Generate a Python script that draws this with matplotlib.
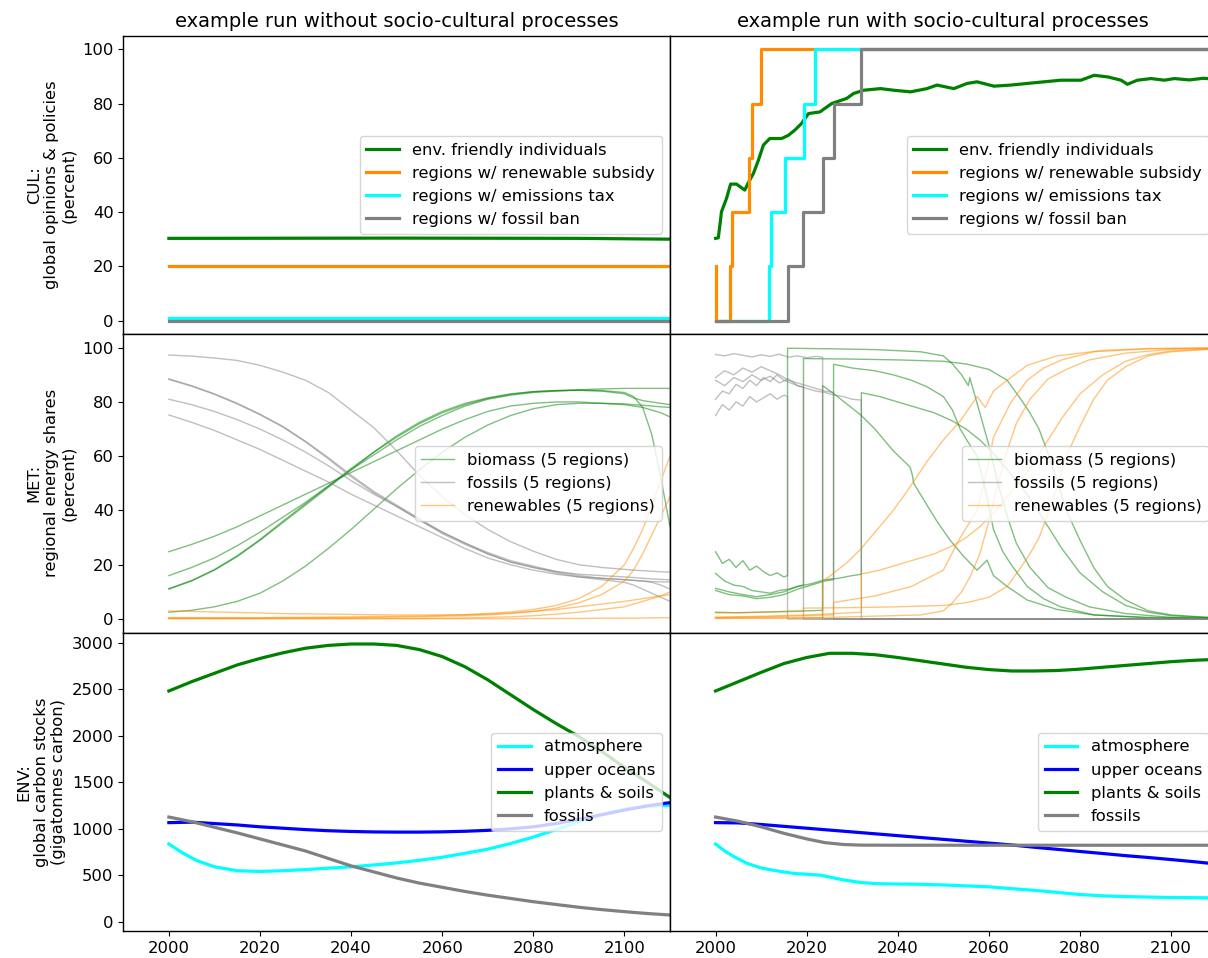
import matplotlib
matplotlib.use("Agg")
import matplotlib.pyplot as plt

plt.rcParams['font.family'] = ['DejaVu Sans']
plt.rcParams['font.size'] = 11.8

# ---------------- CUL (top row) ----------------
cul_labels = ["env. friendly individuals", "regions w/ renewable subsidy",
              "regions w/ emissions tax", "regions w/ fossil ban"]
cul_colors = ["green", "darkorange", "cyan", "gray"]

# without socio-cultural processes
cul0_env_y = [2000, 2050, 2090, 2110]
cul0_env_v = [30.3, 30.4, 30.3, 30.0]
cul0_sub_y = [2000, 2110]
cul0_sub_v = [20, 20]
cul0_tax_y = [2000, 2110]
cul0_tax_v = [1, 1]
cul0_ban_y = [2000, 2110]
cul0_ban_v = [0, 0]

# with socio-cultural processes
cul1_env_y = [2000, 2000.6, 2001, 2001.3, 2002.4, 2003.3, 2004.6, 2006.4, 2007.2, 2008.3,
              2009.4, 2010.5, 2011.9, 2014.5, 2016, 2017.4, 2018.9, 2020.4, 2022.9, 2025.5,
              2028.8, 2030.3, 2032.5, 2036.2, 2039.1, 2042.8, 2046.4, 2048.6, 2052.3, 2055.2,
              2057.4, 2061.1, 2064.8, 2068.4, 2072.1, 2075.8, 2080.2, 2083.1, 2086.1, 2089,
              2090.4, 2092.6, 2095.6, 2098.5, 2100.7, 2104, 2107, 2110]
cul1_env_v = [30.3, 30.5, 35.8, 40.1, 45, 50.3, 50.3, 48.1, 50.8, 54.2,
              59.1, 64.7, 67.1, 67.1, 68.3, 70.2, 72.7, 76.3, 76.9, 80,
              81.9, 83.7, 84.9, 85.5, 84.9, 84.3, 85.5, 86.8, 85.5, 87.4,
              88, 86.4, 86.8, 87.4, 88, 88.6, 88.6, 90.4, 89.8, 88.6,
              87.1, 88.6, 89.2, 88.6, 89.2, 88.7, 89.3, 89]
cul1_sub_y = [2000, 2000.2, 2003.1, 2003.5, 2007.4, 2007.9, 2010, 2110]
cul1_sub_v = [20, 0, 20, 40, 60, 80, 100, 100]
cul1_tax_y = [2000, 2011.8, 2012.1, 2015.3, 2019.4, 2021.9, 2110]
cul1_tax_v = [0, 20, 40, 60, 80, 100, 100]
cul1_ban_y = [2000, 2015.8, 2019.3, 2023.5, 2025.9, 2032, 2110]
cul1_ban_v = [0, 20, 40, 60, 80, 100, 100]

# ---------------- MET (middle row) ----------------
met_labels = ["biomass (5 regions)", "fossils (5 regions)", "renewables (5 regions)"]
met_colors = ["green", "gray", "darkorange"]

met0_years = [2000, 2005, 2010, 2015, 2020, 2025, 2030, 2035, 2040, 2045, 2050, 2055, 2060,
              2065, 2070, 2075, 2080, 2085, 2090, 2095, 2100, 2102, 2104, 2106, 2108, 2110]
met0_bio = [
    [24.8, 27.5, 30.5, 34, 38, 42, 46, 50, 54, 58, 62, 66, 70, 73.5, 76.5, 78.5, 79.5, 80, 80, 79.5, 79, 78.5, 78, 77, 76, 74.5],
    [16, 19, 22.5, 27, 32, 37.5, 43, 49, 55, 60.5, 66, 71, 75, 78.5, 81, 82.5, 83.5, 84, 84.5, 84.8, 85, 85, 85, 85, 85, 85],
    [11, 14, 18, 23, 29, 35.5, 42, 48.5, 55, 61.5, 67.5, 72.5, 76.5, 79.5, 81.5, 83, 83.8, 84.2, 84.3, 84.2, 83.5, 82, 78, 68, 52, 34],
    [11.2, 14.2, 18.2, 23.3, 29.3, 36, 42.5, 49, 55.5, 61.5, 67, 72, 76, 79, 81.3, 82.8, 83.8, 84.2, 84.3, 84, 83, 81.5, 80.5, 80, 79.5, 79],
    [2.5, 3.2, 4.5, 6.5, 9.5, 14, 19.5, 26, 33, 40.5, 48, 55, 61.5, 67, 71.5, 75, 77.5, 79, 79.5, 79.5, 79.3, 79, 78.8, 78.5, 78.2, 78],
]
met0_fos = [
    [97.3, 96.9, 96.2, 95.3, 93.5, 91, 88, 83.5, 77, 70.5, 62, 53, 45, 38.5, 33, 28.5, 25, 22, 20, 19, 18.3, 18, 17.8, 17.6, 17.4, 17.3],
    [88.5, 86, 83, 79.5, 75.5, 71, 65.5, 59.5, 53, 47, 42, 37, 32, 28, 24.5, 21.5, 19.5, 17.5, 16, 15, 14.5, 14.3, 14, 13.5, 12.5, 11],
    [88.3, 85.8, 82.8, 79.3, 75.3, 70.8, 65.3, 59, 52.5, 46.5, 41.5, 36.5, 31.5, 27.5, 24, 21, 19, 17, 15.5, 14.5, 13.5, 12.5, 11, 9.5, 8, 6.5],
    [81, 79, 76.5, 73.5, 70, 66, 61.5, 56.5, 51, 46, 41.5, 36.5, 32, 28, 24, 21, 19, 17.5, 16.5, 16, 15.5, 15.3, 15, 14.8, 14.6, 14.4],
    [75.2, 72.5, 69.5, 66, 62.5, 58.5, 54.5, 50.5, 46, 42, 38, 34, 30, 26, 22.5, 20, 18, 16.5, 15.5, 15, 14.5, 14.2, 14, 13.8, 13.7, 13.6],
]
met0_ren = [
    [3, 2.8, 2.6, 2.4, 2.2, 2, 1.9, 1.8, 1.7, 1.6, 1.5, 1.5, 1.5, 1.6, 1.8, 2.2, 2.8, 3.5, 4.5, 5.5, 6.5, 7, 7.5, 8, 8.5, 9],
    [0.5, 0.5, 0.5, 0.5, 0.5, 0.6, 0.6, 0.7, 0.8, 0.9, 1, 1.1, 1.3, 1.6, 2, 2.6, 3.5, 5, 7.5, 12, 20, 26, 33, 42, 51, 60],
    [0.3, 0.3, 0.3, 0.3, 0.3, 0.4, 0.4, 0.5, 0.5, 0.6, 0.7, 0.8, 1, 1.2, 1.5, 2, 2.8, 4, 6, 9, 14, 18, 24, 31, 38, 45],
    [0.2, 0.2, 0.2, 0.2, 0.2, 0.2, 0.2, 0.2, 0.2, 0.2, 0.2, 0.2, 0.3, 0.4, 0.6, 0.8, 1.2, 1.8, 2.5, 3.5, 4.5, 5.5, 6.5, 7.5, 8.5, 10],
    [0.1, 0.1, 0.1, 0.1, 0.1, 0.1, 0.1, 0.1, 0.1, 0.1, 0.1, 0.1, 0.1, 0.1, 0.1, 0.1, 0.2, 0.2, 0.2, 0.3, 0.3, 0.3, 0.4, 0.4, 0.5, 0.5],
]

# with socio-cultural processes: (years, values) per region
met1_bio_y = [
    [2000, 2001.5, 2003, 2004.5, 2006, 2007.5, 2009, 2010.5, 2012, 2013.5, 2015, 2015.8, 2015.8, 2025, 2035, 2045, 2050, 2052, 2054, 2055.5, 2055.8, 2058, 2060, 2062, 2064, 2066, 2069, 2073, 2077, 2082, 2090, 2100, 2110],
    [2000, 2002, 2004, 2006, 2008, 2010, 2012, 2014, 2016, 2018, 2019.3, 2019.3, 2030, 2040, 2050, 2055, 2060, 2064, 2067, 2069, 2071, 2073, 2075, 2077, 2080, 2083, 2086, 2090, 2095, 2100, 2110],
    [2000, 2005, 2010, 2015, 2020, 2023.5, 2023.5, 2026, 2029, 2032, 2035, 2039, 2042.7, 2043.2, 2043.5, 2046.4, 2048.6, 2051.5, 2054.5, 2057.4, 2059.6, 2061, 2064, 2068.4, 2075, 2083, 2095, 2110],
    [2000, 2003, 2006, 2009, 2012, 2015, 2018, 2021, 2024, 2025.9, 2025.9, 2030, 2035, 2039, 2043, 2046.4, 2050, 2052, 2053.7, 2055.5, 2057.4, 2059.6, 2061, 2063, 2064.7, 2068.4, 2072, 2075.7, 2083, 2095, 2110],
    [2000, 2003, 2006, 2009, 2012, 2015, 2018, 2021, 2024, 2027, 2030, 2032, 2032, 2036, 2040, 2044, 2048, 2052, 2055, 2058, 2061, 2064, 2067, 2070, 2073, 2076, 2080, 2085, 2090, 2095, 2100, 2110],
]
met1_bio_v = [
    [24.8, 20.5, 22, 19, 21.5, 18, 19.5, 17.5, 16, 17, 15.5, 16, 99.8, 99.6, 99.3, 98.5, 97, 94, 90, 86, 89, 76, 64, 50, 38, 28, 19, 11.5, 8, 4.5, 2, 0.6, 0.2],
    [16.8, 14, 12.5, 12, 10.5, 10, 9.5, 10.5, 11, 12, 12.5, 96, 95.8, 95.5, 95, 94, 92, 88, 81, 76, 70, 61, 51, 40, 29, 19, 12, 7, 3, 1.5, 0.4],
    [2.5, 2.3, 2.5, 2.8, 3, 3.2, 86, 83, 79, 75, 70, 62, 56, 53, 50, 42, 36, 29, 23, 18, 21.7, 16, 12, 7, 3.5, 1.5, 0.6, 0.2],
    [10.5, 9, 8.5, 7.5, 8, 9, 11, 12.5, 14, 14.5, 93.9, 92.5, 91.5, 90, 88, 85.6, 82, 77, 70, 65, 60, 45, 33, 25, 20.5, 12, 7.5, 4.5, 1.5, 0.4, 0.1],
    [11.3, 10, 9, 8.2, 9, 10, 12, 13, 14.5, 15, 16, 16.5, 83.4, 82, 80, 78, 76, 73, 70, 66, 61, 55, 49, 42, 34, 26, 17, 10, 5, 2.5, 1.2, 0.4],
]
met1_fos_y = [
    [2000, 2001.5, 2003, 2004.5, 2006, 2007.5, 2009, 2010.5, 2012, 2013.5, 2015, 2015.8, 2015.8, 2110],
    [2000, 2001.5, 2003, 2004.5, 2006, 2007.5, 2009, 2010.5, 2012, 2013.5, 2015, 2016.5, 2018, 2019.3, 2019.3, 2110],
    [2000, 2002, 2004, 2006, 2008, 2010, 2012, 2014, 2016, 2018, 2020, 2022, 2023.5, 2023.5, 2110],
    [2000, 2002, 2004, 2006, 2008, 2010, 2012, 2014, 2016, 2018, 2020, 2022, 2024, 2025.9, 2025.9, 2110],
    [2000, 2002, 2004, 2006, 2008, 2010, 2012, 2014, 2016, 2018, 2020, 2022, 2024, 2026, 2028, 2030, 2032, 2032, 2110],
]
met1_fos_v = [
    [75, 79, 77, 80, 78.5, 82, 80, 81.5, 83, 81, 82.5, 82, 0, 0],
    [81, 84, 83, 86.5, 85, 88, 86, 89, 87.5, 90, 88, 87, 86, 85.5, 0, 0],
    [97.5, 97, 97.8, 97.2, 96.6, 97.4, 96.8, 97.6, 96.5, 97, 96.3, 96.8, 96.5, 0, 0],
    [89, 91.5, 90, 92.5, 91, 93, 91.5, 90, 88, 87, 86, 85, 84, 83.5, 0, 0],
    [88, 86, 89, 87.5, 90, 88, 89.5, 87, 88.5, 86, 85, 84, 83.5, 82.5, 82, 81, 80.7, 0, 0],
]
met1_ren_y = [
    [2000, 2015.8, 2015.8, 2045, 2050, 2052, 2054, 2056, 2058, 2060, 2062, 2064, 2066, 2069, 2073, 2077, 2082, 2090, 2100, 2110],
    [2000, 2010, 2019.3, 2019.3, 2030, 2040, 2050, 2055, 2060, 2064, 2067, 2069, 2071, 2073, 2075, 2077, 2080, 2083, 2086, 2090, 2095, 2100, 2110],
    [2000, 2010, 2020, 2023.5, 2023.5, 2026, 2029, 2032, 2035, 2039, 2042, 2046.4, 2050, 2053.7, 2057.4, 2059.2, 2061, 2064, 2068.4, 2075, 2085, 2095, 2110],
    [2000, 2010, 2020, 2025.9, 2025.9, 2035, 2043, 2050, 2053.7, 2057.4, 2059.6, 2061, 2064.7, 2068.4, 2072, 2076, 2083, 2095, 2110],
    [2000, 2010, 2020, 2032, 2032, 2036, 2040, 2044, 2048, 2052, 2055, 2058, 2061, 2064, 2067, 2070, 2073, 2076, 2080, 2085, 2090, 2095, 2100, 2110],
]
met1_ren_v = [
    [0.2, 0.3, 0.2, 1.5, 3, 6, 10, 16, 24, 36, 50, 62, 72, 81, 88.5, 92, 95.5, 98, 99.4, 99.8],
    [2.2, 2.5, 2.8, 4, 4.2, 4.5, 5, 6, 8, 12, 19, 24, 30, 39, 49, 60, 71, 81, 88, 93, 97, 98.5, 99.6],
    [0.4, 0.4, 0.5, 0.5, 13.8, 17, 21, 26, 32, 40, 47, 58, 66, 73, 82, 78, 84, 88, 93.5, 97, 99, 99.7, 99.9],
    [0.5, 0.8, 1.2, 1.5, 6.1, 8.5, 12, 18, 30, 40, 55, 67, 79.5, 88, 92.5, 95.5, 98.5, 99.6, 99.9],
    [0.7, 1, 1.5, 2.5, 16.6, 18, 20, 22, 24, 27, 30, 34, 39, 45, 51, 58, 66, 74, 83, 90, 95, 97.5, 98.8, 99.6],
]

# ---------------- ENV (bottom row) ----------------
env_labels = ["atmosphere", "upper oceans", "plants & soils", "fossils"]
env_colors = ["cyan", "blue", "green", "gray"]
env_years = [2000, 2005, 2010, 2015, 2020, 2025, 2030, 2035, 2040, 2045, 2050, 2055,
             2060, 2065, 2070, 2075, 2080, 2085, 2090, 2095, 2100, 2105, 2110]

env0_atm_y = [2000, 2003, 2006, 2010, 2015, 2020, 2025, 2030, 2035, 2040, 2045, 2050, 2055,
              2060, 2065, 2070, 2075, 2080, 2085, 2090, 2095, 2100, 2105, 2110]
env0_atm_v = [835, 740, 660, 590, 548, 540, 548, 560, 575, 590, 610, 632, 660,
              693, 735, 780, 840, 910, 990, 1075, 1150, 1210, 1240, 1250]
env0_ocean = [1065, 1070, 1055, 1040, 1020, 1005, 990, 978, 970, 965, 963, 963,
              966, 972, 982, 998, 1020, 1055, 1100, 1150, 1200, 1245, 1280]
env0_plant = [2480, 2580, 2670, 2760, 2830, 2890, 2940, 2970, 2985, 2985, 2970, 2925,
              2850, 2740, 2600, 2440, 2280, 2130, 1990, 1830, 1660, 1500, 1335]
env0_fossil = [1125, 1075, 1015, 955, 890, 825, 760, 680, 600, 535, 470, 415,
               370, 325, 285, 250, 215, 185, 155, 130, 108, 88, 72]

env1_atm_y = [2000, 2002, 2004, 2007, 2010, 2013, 2017, 2020, 2023, 2025, 2028, 2032, 2036,
              2040, 2045, 2050, 2055, 2060, 2065, 2070, 2075, 2080, 2085, 2090, 2095, 2100, 2105, 2110]
env1_atm_v = [835, 760, 700, 625, 578, 550, 520, 510, 500, 480, 450, 420, 408,
              405, 402, 395, 385, 375, 355, 337, 315, 292, 278, 270, 265, 260, 258, 256]
env1_ocean = [1065, 1062, 1045, 1025, 1005, 985, 965, 945, 925, 905, 885, 865,
              845, 825, 800, 778, 755, 733, 710, 690, 668, 645, 620]
env1_plant = [2480, 2580, 2680, 2775, 2840, 2885, 2885, 2870, 2840, 2805, 2770, 2735,
              2710, 2695, 2695, 2700, 2715, 2735, 2755, 2775, 2795, 2810, 2820]
env1_fossil_y = [2000, 2005, 2010, 2015, 2020, 2024, 2028, 2032, 2040, 2060, 2080, 2110]
env1_fossil_v = [1125, 1080, 1020, 950, 890, 850, 830, 823, 822, 822, 822, 822]

titles = ["example run without socio-cultural processes",
          "example run with socio-cultural processes"]
ylabels = ["CUL:\nglobal opinions & policies\n(percent)",
           "MET:\nregional energy shares\n(percent)",
           "ENV:\nglobal carbon stocks\n(gigatonnes carbon)"]

# ---------------- figure ----------------
W, H = 1208, 958
fig = plt.figure(figsize=(W / 100, H / 100), dpi=100)
x0s = [123.3 / W, 670 / W]
aw = 546.7 / W
top = 1 - 35.7 / H
bot = 1 - 931 / H
ah = (top - bot) / 3
axes = [[None, None] for _ in range(3)]
for r in range(3):
    for c in range(2):
        kw = {}
        if c == 1:
            kw['sharey'] = axes[r][0]
        ax = fig.add_axes([x0s[c], top - (r + 1) * ah, aw, ah], **kw)
        axes[r][c] = ax
        for s in ax.spines.values():
            s.set_linewidth(1.0)

THICK = 2.3

# CUL
a = axes[0][0]
for yy, vv, col, lab in [(cul0_env_y, cul0_env_v, cul_colors[0], cul_labels[0]),
                         (cul0_sub_y, cul0_sub_v, cul_colors[1], cul_labels[1]),
                         (cul0_tax_y, cul0_tax_v, cul_colors[2], cul_labels[2]),
                         (cul0_ban_y, cul0_ban_v, cul_colors[3], cul_labels[3])]:
    a.plot(yy, vv, color=col, lw=THICK, label=lab)
a = axes[0][1]
a.plot(cul1_env_y, cul1_env_v, color=cul_colors[0], lw=THICK, label=cul_labels[0])
for yy, vv, col, lab in [(cul1_sub_y, cul1_sub_v, cul_colors[1], cul_labels[1]),
                         (cul1_tax_y, cul1_tax_v, cul_colors[2], cul_labels[2]),
                         (cul1_ban_y, cul1_ban_v, cul_colors[3], cul_labels[3])]:
    a.plot(yy, vv, color=col, lw=THICK, label=lab, drawstyle='steps-post')

# MET
a = axes[1][0]
for k, series in enumerate([met0_bio, met0_fos, met0_ren]):
    for i, vv in enumerate(series):
        a.plot(met0_years, vv, color=met_colors[k], lw=1, alpha=0.5,
               label=met_labels[k] if i == 0 else None)
a = axes[1][1]
for k, (ys, vs) in enumerate([(met1_bio_y, met1_bio_v), (met1_fos_y, met1_fos_v),
                              (met1_ren_y, met1_ren_v)]):
    for i in range(5):
        a.plot(ys[i], vs[i], color=met_colors[k], lw=1, alpha=0.5,
               label=met_labels[k] if i == 0 else None)

# ENV
a = axes[2][0]
a.plot(env0_atm_y, env0_atm_v, color=env_colors[0], lw=THICK, label=env_labels[0])
a.plot(env_years, env0_ocean, color=env_colors[1], lw=THICK, label=env_labels[1])
a.plot(env_years, env0_plant, color=env_colors[2], lw=THICK, label=env_labels[2])
a.plot(env_years, env0_fossil, color=env_colors[3], lw=THICK, label=env_labels[3])
a = axes[2][1]
a.plot(env1_atm_y, env1_atm_v, color=env_colors[0], lw=THICK, label=env_labels[0])
a.plot(env_years, env1_ocean, color=env_colors[1], lw=THICK, label=env_labels[1])
a.plot(env_years, env1_plant, color=env_colors[2], lw=THICK, label=env_labels[2])
a.plot(env1_fossil_y, env1_fossil_v, color=env_colors[3], lw=THICK, label=env_labels[3])

ylims = [(-5, 105), (-5, 105), (-100, 3108)]
for r in range(3):
    for c in range(2):
        ax = axes[r][c]
        ax.set_xlim(1990, 2110)
        ax.set_ylim(*ylims[r])
        ax.set_xticks([2000, 2020, 2040, 2060, 2080, 2100])
        if r < 2:
            ax.tick_params(axis='x', bottom=False, labelbottom=False)
        if c == 1:
            ax.tick_params(axis='y', left=False, labelleft=False)
        ax.legend(loc='center right')
    axes[r][0].set_ylabel(ylabels[r])
axes[0][0].set_yticks([0, 20, 40, 60, 80, 100])
axes[1][0].set_yticks([0, 20, 40, 60, 80, 100])
axes[2][0].set_yticks([0, 500, 1000, 1500, 2000, 2500, 3000])
axes[0][0].set_title(titles[0], fontsize=14)
axes[0][1].set_title(titles[1], fontsize=14)

fig.savefig("out.png", dpi=100)
